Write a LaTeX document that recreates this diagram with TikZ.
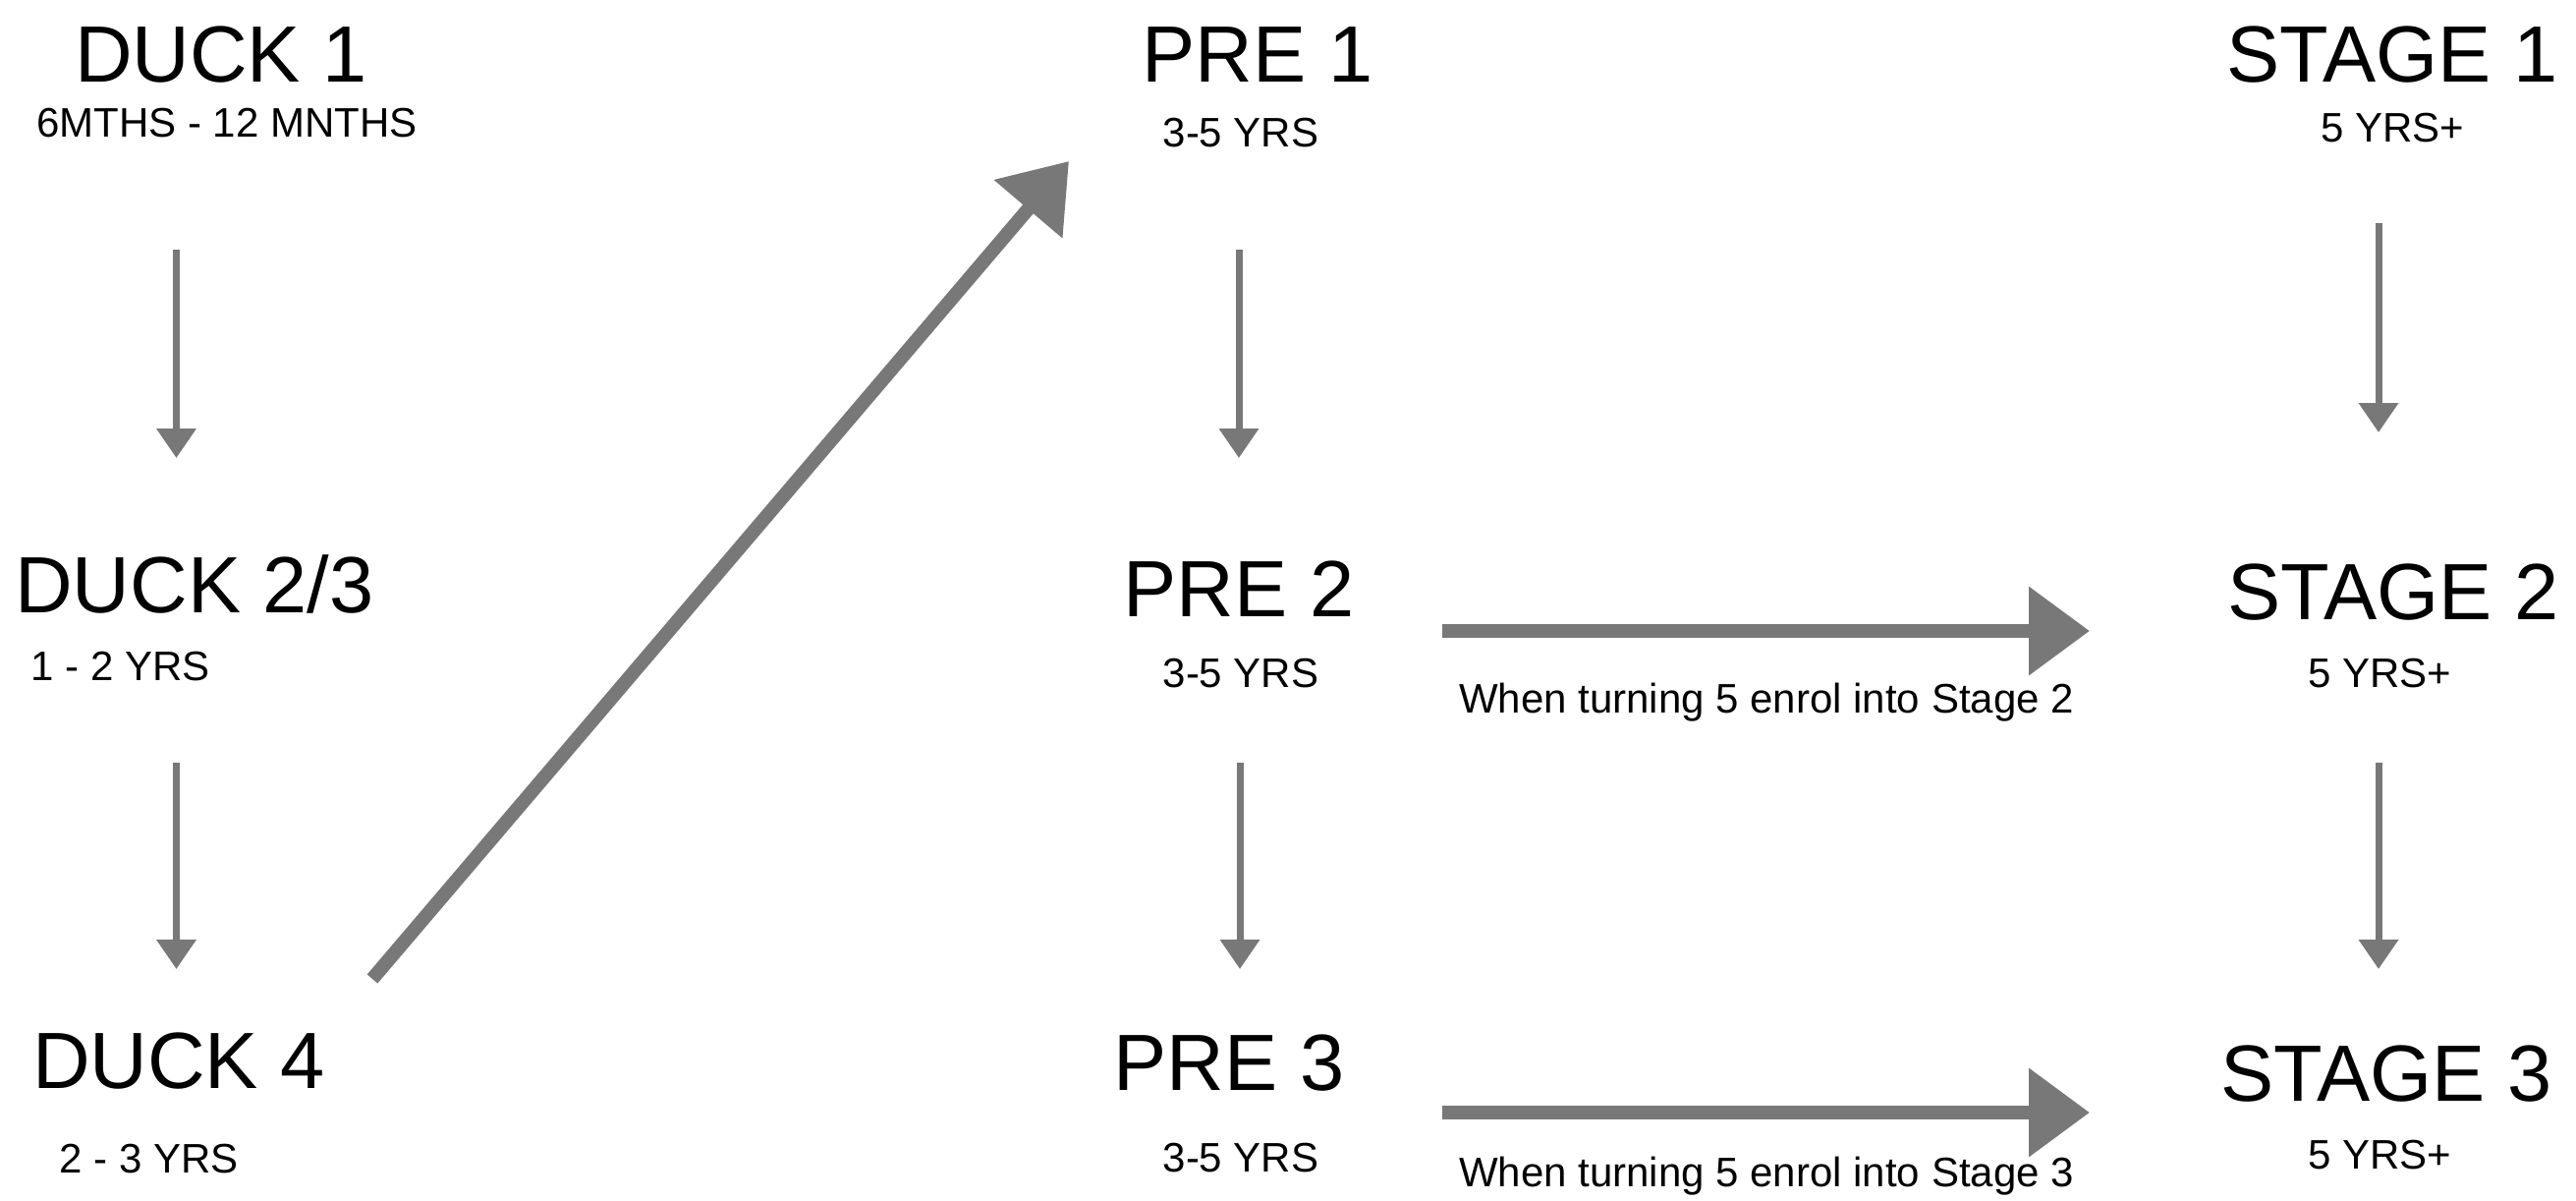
\documentclass[tikz,border=0pt]{standalone}
\usepackage{fontspec}
\setmainfont{Liberation Sans}
\usetikzlibrary{arrows.meta}
\definecolor{arrowgray}{HTML}{787878}

\begin{document}
\begin{tikzpicture}
    [
      x=.5pt, y=-.5pt,
      title/.style={font=\fontsize{40.6}{49}\selectfont, anchor=base, inner sep=0pt},
      age/.style={font=\fontsize{21}{25}\selectfont, anchor=base, inner sep=0pt},
      note/.style={font=\fontsize{21}{25}\selectfont, anchor=base, inner sep=0pt},
      down/.style={arrowgray, line width=3.5pt, -{Triangle[length=15pt,width=19.5pt]}},
      move/.style={arrowgray, line width=7pt, -{Triangle[length=31pt,width=43.5pt]}},
      jump/.style={arrowgray, line width=7pt, -{Triangle[length=32pt,width=44pt]}},
    ]
    \useasboundingbox (0,0) rectangle (2622,1221);

    % duck levels
    \node [title] (duck1) at (225,83) {DUCK 1};
    \node [age] (duck1age) at (231,139) {6MTHS - 12 MNTHS};
    \node [title] (duck23) at (198,623) {DUCK 2/3};
    \node [age] (duck23age) at (123,692) {1 - 2 YRS};
    \node [title] (duck4) at (182,1107) {DUCK 4};
    \node [age] (duck4age) at (152,1193) {2 - 3 YRS};

    % pre levels
    \node [title] (pre1) at (1280,83) {PRE 1};
    \node [age] (pre1age) at (1263,149) {3-5 YRS};
    \node [title] (pre2) at (1261,627) {PRE 2};
    \node [age] (pre2age) at (1263,699) {3-5 YRS};
    \node [title] (pre3) at (1251,1109) {PRE 3};
    \node [age] (pre3age) at (1263,1192) {3-5 YRS};

    % stage levels
    \node [title] (stage1) at (2435,83) {STAGE 1};
    \node [age] (stage1age) at (2435,144) {5 YRS+};
    \node [title] (stage2) at (2436,630) {STAGE 2};
    \node [age] (stage2age) at (2422,699) {5 YRS+};
    \node [title] (stage3) at (2429,1120) {STAGE 3};
    \node [age] (stage3age) at (2422,1189) {5 YRS+};

    % arrow ends
    \foreach \n/\x/\ya/\yb in {duckA/179.5/254/466, duckB/179.5/776/986,
                               preA/1261/254/466, preB/1262/776/986,
                               stageA/2421/227/440, stageB/2421/776/986} {
      \coordinate (\n top) at (\x,\ya);
      \coordinate (\n tip) at (\x,\yb);
    }
    \coordinate (jump tail) at (379,996);
    \coordinate (jump tip) at (1088,164);
    \coordinate (move2 tail) at (1468,642);
    \coordinate (move2 tip) at (2127,642);
    \coordinate (move3 tail) at (1468,1132);
    \coordinate (move3 tip) at (2127,1132);

    % downward arrows
    \foreach \n in {duckA,duckB,preA,preB,stageA,stageB} {
      \draw [down] (\n top) -- (\n tip);
    }

    % moves across
    \draw [jump] (jump tail) -- (jump tip);
    \draw [move] (move2 tail) -- (move2 tip);
    \draw [move] (move3 tail) -- (move3 tip);
    \node [note] (note2) at (1798,725) {When turning 5 enrol into Stage 2};
    \node [note] (note3) at (1798,1207) {When turning 5 enrol into Stage 3};
  \end{tikzpicture}
\end{document}
